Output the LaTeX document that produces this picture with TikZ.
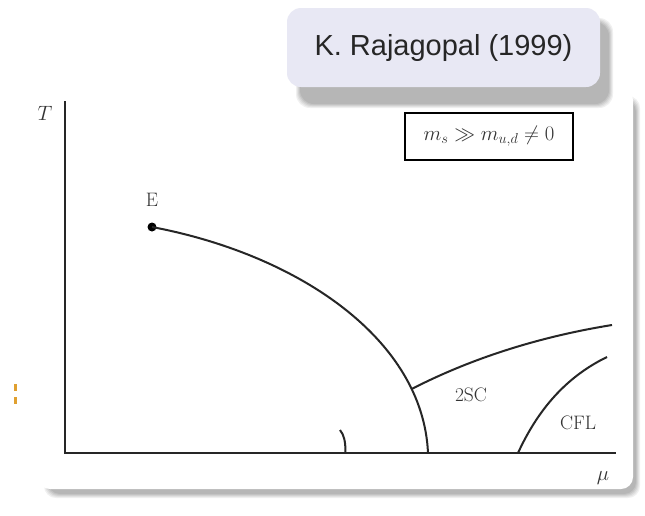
\documentclass[tikz,border=0pt]{standalone}
\usepackage{fontspec}
\newfontfamily\titlefont{Liberation Sans}
\usepackage{amssymb}
\definecolor{titlefill}{HTML}{E8E8F4}
\definecolor{shadowgray}{HTML}{6E6E6E}
\definecolor{marker}{HTML}{E0A030}
\tikzset{
  axisline/.style={line width=2.6pt, black!85},
  phaseline/.style={line width=2pt, black!85},
  lbl/.style={font=\fontsize{19.5}{22}\selectfont, text=black!80, inner sep=0pt},
}
\begin{document}
\begin{tikzpicture}[x=1pt,y=-1pt]
\useasboundingbox (0,0) rectangle (645,515);
\fill[white] (0,0) rectangle (645,515);
% panel shadow (layered)
\foreach \o/\a in {0/0.10,1/0.10,2/0.12,3/0.14,4/0.16} {
  \fill[shadowgray, opacity=\a, rounded corners=12pt]
    (44+\o,96+\o) rectangle (640-\o,498-\o);
}
\fill[white, rounded corners=12pt] (38,88) rectangle (633,489);
% title shadow
\foreach \o/\a in {0/0.10,1/0.10,2/0.12,3/0.14,4/0.16} {
  \fill[shadowgray, opacity=\a, rounded corners=14pt]
    (296+\o,18+\o) rectangle (613-\o,108-\o);
}
\node[fill=titlefill, rounded corners=14pt, minimum width=313pt, minimum height=79pt,
      inner sep=0pt, font=\titlefont\fontsize{29}{32}\selectfont, text=black!85]
  (title) at (443.5,47.5) {K. Rajagopal (1999)};
% axes
\coordinate (origin) at (65,453);
\coordinate (ytop) at (65,101);
\coordinate (xend) at (616,453);
\draw[axisline] (ytop) -- (origin) -- (xend);
\node[lbl] (Tlab) at (45,113) {$T$};
\node[lbl] (mulab) at (603,478) {$\mu$};
% condition box
\node[draw, line width=1.6pt, minimum width=168pt, minimum height=47pt, inner sep=0pt,
      font=\fontsize{20}{22}\selectfont, text=black!80]
  (cond) at (489,136.5) {$m_s \gg m_{u,d} \neq 0$};
% critical point
\node[circle, fill=black, inner sep=0pt, minimum size=9pt] (E) at (152,227) {};
\node[lbl] (Elab) at (152,200) {E};
% phase lines
\coordinate (chiralend) at (428,453);
\draw[phaseline] (E.center) .. controls (300,255) and (423,340) .. (chiralend);
\coordinate (junction) at (412,388.8);
\coordinate (twoscend) at (612,325);
\draw[phaseline] (junction) .. controls (480,354) and (550,335) .. (twoscend);
\coordinate (cflbottom) at (518,453);
\coordinate (cfltop) at (607,357);
\draw[phaseline] (cflbottom) .. controls (540,405) and (570,375) .. (cfltop);
\coordinate (ticktop) at (340,430);
\coordinate (tickbottom) at (345.5,453);
\draw[phaseline] (ticktop) .. controls (344,435) and (345.5,441) .. (tickbottom);
% phase labels
\node[lbl] (twosc) at (471,395) {2SC};
\node[lbl] (cfl) at (578,423) {CFL};
% small orange marks
\coordinate (m1a) at (15.5,384);
\coordinate (m1b) at (15.5,391);
\coordinate (m2a) at (15.5,397);
\coordinate (m2b) at (15.5,404);
\draw[marker, line width=2.5pt] (m1a) -- (m1b);
\draw[marker, line width=2.5pt] (m2a) -- (m2b);
\end{tikzpicture}
\end{document}
